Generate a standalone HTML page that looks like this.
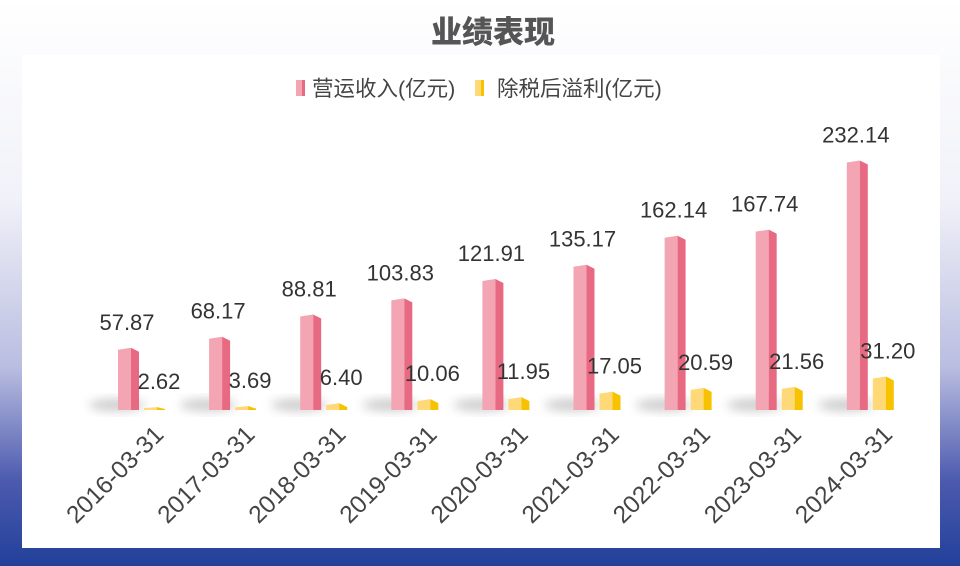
<!DOCTYPE html>
<html><head><meta charset="utf-8"><style>
html,body{margin:0;padding:0}
body{width:960px;height:566px;overflow:hidden;background:linear-gradient(180deg,#fff 0%,#f1f2f9 35%,#b9bde0 65%,#4c5aae 85%,#22409a 100%);font-family:"Liberation Sans","Noto Sans CJK SC",sans-serif;position:relative}
#panel{position:absolute;left:22px;top:55px;width:918px;height:493px;background:#fff}
</style></head><body>
<div id="panel"></div>
<svg id="chart" width="960" height="566" style="position:absolute;left:0;top:0">
<defs>
<filter id="blur" x="-50%" y="-50%" width="200%" height="200%"><feGaussianBlur stdDeviation="5"/></filter>
</defs>
<text x="493" y="43" text-anchor="middle" font-size="31" font-weight="900" fill="#555" font-family="'Noto Sans CJK SC',sans-serif">业绩表现</text>
<g>
<g>
<rect x="296" y="80" width="6" height="16" fill="#f3a5b3"/><rect x="302" y="80" width="3" height="16" fill="#e86a82"/>
<text x="312" y="96" font-size="21.5" fill="#444">营运收入(亿元)</text></g>
<g>
<rect x="475" y="80" width="6" height="16" fill="#ffd978"/><rect x="481" y="80" width="3" height="16" fill="#f7c200"/>
<text x="497" y="96" font-size="21.5" fill="#444">除税后溢利(亿元)</text></g>
</g>
<g id="shadows"></g><g id="bars"></g><g id="labels"></g><g id="xaxis"></g>
</svg>
<script>
const categories=["2016-03-31","2017-03-31","2018-03-31","2019-03-31","2020-03-31","2021-03-31","2022-03-31","2023-03-31","2024-03-31"];
const revenue=[57.87,68.17,88.81,103.83,121.91,135.17,162.14,167.74,232.14];
const profit=[2.62,3.69,6.40,10.06,11.95,17.05,20.59,21.56,31.20];
const revenueLabels=["57.87","68.17","88.81","103.83","121.91","135.17","162.14","167.74","232.14"];
const profitLabels=["2.62","3.69","6.40","10.06","11.95","17.05","20.59","21.56","31.20"];
const NS="http://www.w3.org/2000/svg";
const base=410, k=1.075;
function xc(i){return 141+91.1*i;}
function yv(v){return base-v*k;}
function mk(tag,attrs,parent){const e=document.createElementNS(NS,tag);for(const a in attrs)e.setAttribute(a,attrs[a]);parent.appendChild(e);return e;}
const gs=document.getElementById('shadows'),gb=document.getElementById('bars'),gl=document.getElementById('labels'),gx=document.getElementById('xaxis');
function bar3d(x,v,front,side,top,name){
  const g=mk('g',{},gb);
  
  
  const y=yv(v);
  const tp=Math.min(2,(base-y)/3);
  mk('polygon',{points:`${x},${base} ${x},${y+tp} ${x+13},${y} ${x+13},${base}`,fill:front},g);
  mk('polygon',{points:`${x+13},${base} ${x+13},${y} ${x+21},${y+2*tp} ${x+21},${base}`,fill:side},g);
}
categories.forEach((c,i)=>{
  const cx=xc(i);
  const sh=mk('ellipse',{cx:cx-24,cy:base-5,rx:28,ry:6,fill:'#aaa',opacity:0.6,filter:'url(#blur)'},gs);
  
  
  bar3d(cx-23,revenue[i],'#f3a5b3','#e86a82','#f7b8c4','revenue-bar-'+c.slice(0,4));
  bar3d(cx+3,profit[i],'#ffd978','#f7c200','#ffe6a0','profit-bar-'+c.slice(0,4));
  const t1=mk('text',{x:cx-14,y:yv(revenue[i])-18,'text-anchor':'middle','font-size':22,fill:'#333'},gl);
  t1.textContent=revenueLabels[i];
  
  
  const t2=mk('text',{x:cx+18,y:yv(profit[i])-18,'text-anchor':'middle','font-size':22,fill:'#333'},gl);
  t2.textContent=profitLabels[i];
  
  
  const tx=mk('text',{x:0,y:0,'text-anchor':'end','font-size':24.5,fill:'#444',transform:`translate(${cx+24},${436}) rotate(-45)`},gx);
  tx.textContent=c;
  
  
});
</script>
</body></html>
